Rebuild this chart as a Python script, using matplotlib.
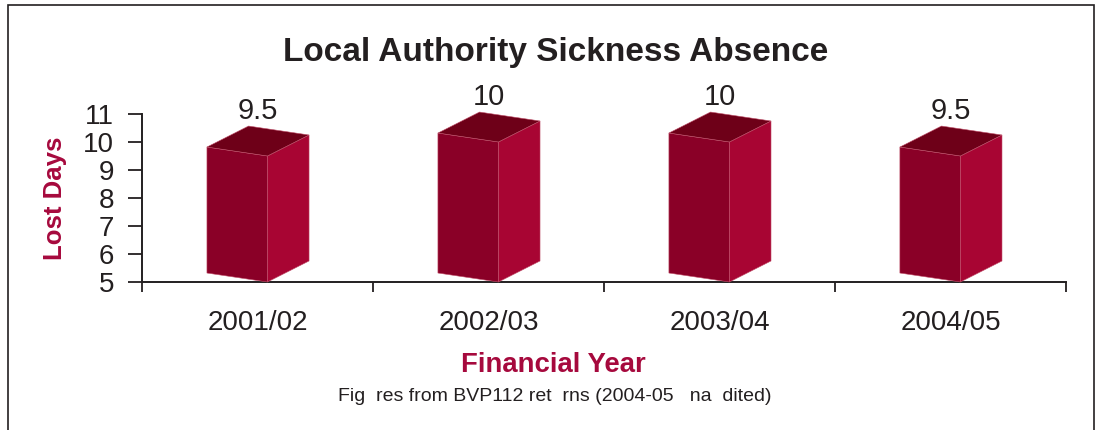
import matplotlib.pyplot as plt
from matplotlib.patches import Polygon, Rectangle

# data
years = ['2001/02', '2002/03', '2003/04', '2004/05']
lost_days = [9.5, 10, 10, 9.5]
value_labels = ['9.5', '10', '10', '9.5']

plt.rcParams['font.family'] = ['Liberation Sans', 'DejaVu Sans']

crimson = '#a6093d'
line_col = '#231f20'
front_col = '#8a0027'
side_col = '#a80533'
top_col = '#6e0018'

fig = plt.figure(figsize=(10.96, 4.30), dpi=100)
ax = fig.add_axes([0.1296, 0.3442, 0.843, 0.3907])

# 3d-looking boxes
w_left, w_right = 0.219, 0.043   # front face extent around category centre
depth_x, depth_y = 0.18, 0.75   # depth offset (x in category units, y in days)
skew = 0.32                     # front face tilt
base = 5
for i, v in enumerate(lost_days):
    xl, xr = i - w_left, i + w_right
    front = [(xl, base + skew), (xr, base), (xr, v), (xl, v + skew)]
    side = [(xr, base), (xr + depth_x, base + depth_y),
            (xr + depth_x, v + depth_y), (xr, v)]
    top = [(xl, v + skew), (xr, v), (xr + depth_x, v + depth_y),
           (xl + depth_x, v + skew + depth_y)]
    for pts, col in [(front, front_col), (side, side_col), (top, top_col)]:
        ax.add_patch(Polygon(pts, closed=True, facecolor=col, edgecolor='#c0506a',
                             linewidth=0.4, clip_on=False, zorder=3))
    ax.text(i, v + 1.6, value_labels[i], ha='center', va='center',
            fontsize=21, color=line_col, clip_on=False)

ax.set_xlim(-0.5, 3.5)
ax.set_ylim(5, 11)
ax.set_yticks(range(5, 12))
ax.tick_params(axis='y', labelsize=20, length=10, width=1.3, color=line_col,
               labelcolor=line_col, pad=10)
ax.set_xticks(range(len(years)))
ax.set_xticklabels(years)
ax.set_xticks([-0.5, 0.5, 1.5, 2.5, 3.5], minor=True)
ax.tick_params(axis='x', which='major', length=0, labelsize=20,
               labelcolor=line_col, pad=20)
ax.tick_params(axis='x', which='minor', length=7, width=1.3, color=line_col)

for s in ['top', 'right']:
    ax.spines[s].set_visible(False)
for s in ['left', 'bottom']:
    ax.spines[s].set_color(line_col)
    ax.spines[s].set_linewidth(1.4)
ax.spines['left'].set_bounds(5, 11)

ax.set_ylabel('Lost Days', fontsize=18.5, fontweight='bold', color=crimson,
              labelpad=12)

fig.text(0.507, 0.878, 'Local Authority Sickness Absence', ha='center',
         va='center', fontsize=24, fontweight='bold', color=line_col)
fig.text(0.505, 0.151, 'Financial Year', ha='center', va='center',
         fontsize=19.8, fontweight='bold', color=crimson)
fig.text(0.506, 0.078, 'Fig  res from BVP112 ret  rns (2004-05   na  dited)',
         ha='center', va='center', fontsize=14, color=line_col)

# frame around the figure
fig.add_artist(Rectangle((0.0075, -0.1), 0.9905, 1.088, transform=fig.transFigure,
                         fill=False, edgecolor=line_col, linewidth=1.2))

fig.savefig('out.png', dpi=100)
